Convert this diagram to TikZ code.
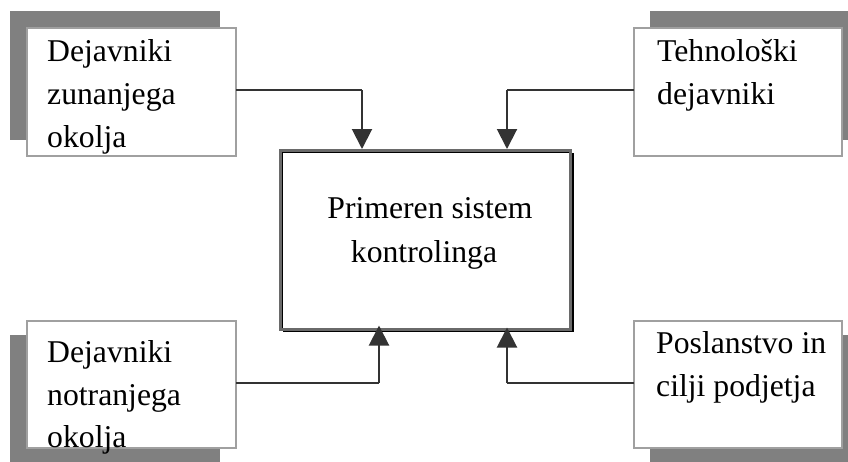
\documentclass[tikz,border=0pt]{standalone}
\usepackage{fontspec}
\setmainfont{Liberation Serif}
\usetikzlibrary{arrows.meta}
\definecolor{shadowgray}{HTML}{808080}
\definecolor{framegray}{HTML}{A0A0A0}
\definecolor{linegray}{HTML}{333333}
\definecolor{ctrframe}{HTML}{6A6A6A}
\begin{document}
\begin{tikzpicture}[x=1pt,y=-1pt,
  factor/.style={draw=framegray, line width=1.6pt, fill=white, minimum width=209pt, minimum height=128pt, inner sep=0pt, outer sep=0pt},
  shade/.style={fill=shadowgray, draw=none},
  lbl/.style={anchor=base west, inner sep=0pt, font=\fontsize{31.7}{43}\selectfont},
  clbl/.style={anchor=base, inner sep=0pt, font=\fontsize{31.7}{43}\selectfont},
  conn/.style={draw=linegray, line width=2pt, -{Triangle[width=20pt,length=20pt]}},
  link/.style={draw=linegray, line width=2pt}]
\useasboundingbox (0,0) rectangle (848,461);
\fill[white] (0,0) rectangle (848,461);

% drop shadows of the four factor boxes
\fill[shade] (10,11) rectangle (220,140);
\fill[shade] (650,11) rectangle (858,140);
\fill[shade] (10,335) rectangle (220,462);
\fill[shade] (650,335) rectangle (858,462);

% factor boxes
\node[factor] (ext)  at (131.5,92) {};
\node[factor, minimum width=208pt] (tech) at (738,92) {};
\node[factor, minimum height=127pt] (int)  at (131.5,384.5) {};
\node[factor, minimum width=208pt, minimum height=127pt] (goal) at (738,384.5) {};

% central box with its dark shadow
\fill[black] (283,153) rectangle (574,332);
\node[draw=ctrframe, line width=3pt, fill=white, minimum width=289.5pt, minimum height=178.5pt, inner sep=0pt, outer sep=1.5pt] (ctr) at (425.25,239.75) {};
\draw[black, line width=1.2pt] (282.4,328) -- (282.4,152.4) -- (569,152.4);

% labels
\node[lbl] (ext1) at (47,61) {Dejavniki};
\node[lbl] (ext2) at (47,104) {zunanjega};
\node[lbl] (ext3) at (47,147) {okolja};
\node[lbl] (tech1) at (657,61) {Tehnološki};
\node[lbl] (tech2) at (657,104) {dejavniki};
\node[lbl] (int1) at (47,362) {Dejavniki};
\node[lbl] (int2) at (47,405) {notranjega};
\node[lbl] (int3) at (47,447) {okolja};
\node[lbl] (goal1) at (656,353) {Poslanstvo in};
\node[lbl] (goal2) at (656,396) {cilji podjetja};
\node[clbl] (ctr1) at (430,218) {Primeren sistem};
\node[clbl] (ctr2) at (424,262) {kontrolinga};

% connectors
\coordinate (tlbend) at (362,90);
\coordinate (trbend) at (507,90);
\coordinate (blbend) at (379,383);
\coordinate (brbend) at (507,383);
\draw[link] (ext.east |- tlbend) -- (tlbend);
\draw[conn] (tlbend) -- (tlbend |- ctr.north);
\draw[link] (tech.west |- trbend) -- (trbend);
\draw[conn] (trbend) -- (trbend |- ctr.north);
\draw[link] (int.east |- blbend) -- (blbend);
\draw[conn] (blbend) -- ([yshift=5pt]blbend |- ctr.south);
\draw[link] (goal.west |- brbend) -- (brbend);
\draw[conn] (brbend) -- ([yshift=3pt]brbend |- ctr.south);
\end{tikzpicture}
\end{document}
